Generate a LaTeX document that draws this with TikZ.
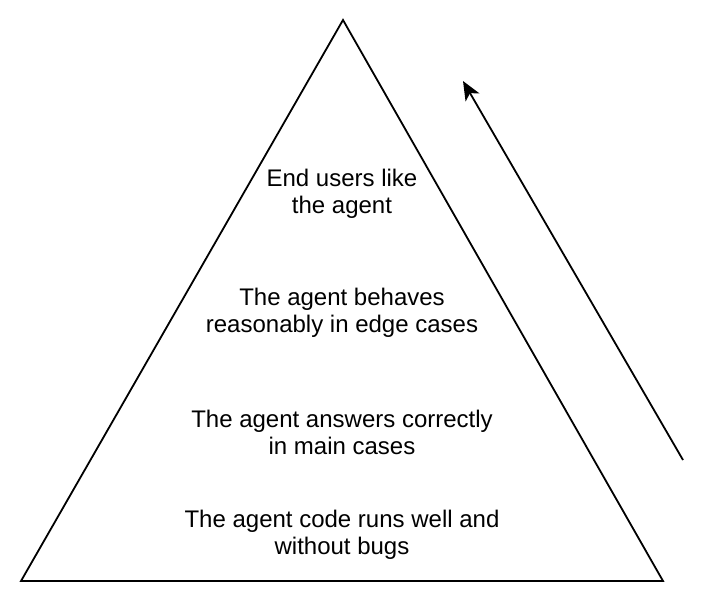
\documentclass[tikz,border=0pt]{standalone}
\usepackage{fontspec}
\setmainfont{Liberation Sans}
\usetikzlibrary{positioning, calc, arrows.meta}

\begin{document}
\begin{tikzpicture}[x=1pt, y=-1pt, line width=1.8pt,
    level/.style={align=center, inner sep=0pt, font=\fontsize{24}{27}\selectfont}]
            \useasboundingbox (0,0) rectangle (720,602);
            \coordinate (apex) at (343, 20);
            \coordinate (baseleft) at (21, 581);
            \coordinate (baseright) at (663, 581);
            \draw (apex) -- (baseright) -- (baseleft) -- cycle;
            \node[level] (users) at (342, 194) {End users like\\the agent};
            \node[level] (edge) at (342, 313) {The agent behaves\\reasonably in edge cases};
            \node[level] (main) at (342, 432) {The agent answers correctly\\in main cases};
            \node[level] (code) at (342, 535) {The agent code runs well and\\without bugs};
            \coordinate (arrowfrom) at (683, 460);
            \coordinate (arrowto) at (463, 81);
            \draw[-{Stealth[length=19pt, width=16pt, inset=5pt]}] (arrowfrom) -- (arrowto);
\end{tikzpicture}
\end{document}
